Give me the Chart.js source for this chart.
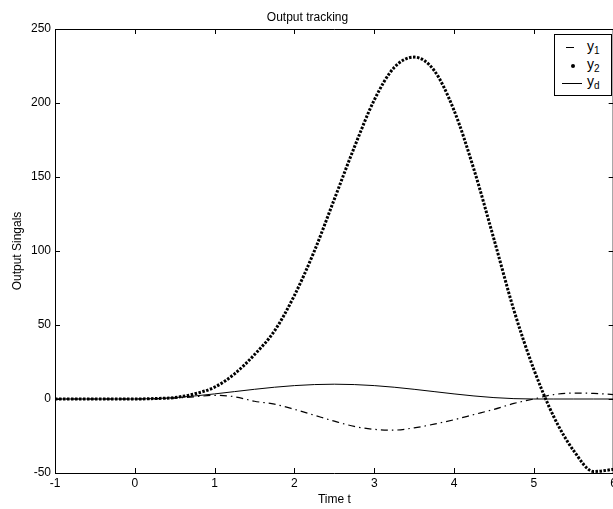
<!DOCTYPE html>
<html><head><meta charset="utf-8">
<script src="https://cdn.jsdelivr.net/npm/chart.js@4.4.1/dist/chart.umd.min.js"></script>
<style>
html,body{margin:0;padding:0;background:#fff;overflow:hidden;width:613px;height:509px;}
#wrap{position:relative;width:620px;height:509px;}
#legend{position:absolute;left:554px;top:34px;width:58px;height:62px;border:1px solid #000;box-sizing:border-box;background:#fff;font-family:"Liberation Sans",Arial,sans-serif;font-size:14px;color:#000;}
#legend .row{position:absolute;left:0;width:100%;height:18px;}
#legend .txt{position:absolute;left:32px;top:0;line-height:14px;white-space:nowrap;}
#legend sub{font-size:10px;position:relative;top:3px;vertical-align:baseline;line-height:0;}
#legend .s1{position:absolute;left:11px;top:8px;width:8px;height:1px;background:#000;}
#legend .s2{position:absolute;left:16px;top:7px;width:4px;height:4px;border-radius:2px;background:#000;}
#legend .s3{position:absolute;left:7px;top:9px;width:20px;height:1px;background:#000;}
</style></head>
<body>
<div id="wrap">
<canvas id="c" width="620" height="509"></canvas>
<div id="legend">
 <div class="row" style="top:4px"><div class="s1"></div><div class="txt">y<sub>1</sub></div></div>
 <div class="row" style="top:22px"><div class="s2"></div><div class="txt">y<sub>2</sub></div></div>
 <div class="row" style="top:39px"><div class="s3"></div><div class="txt">y<sub>d</sub></div></div>
</div>
</div>
<script>
const tValues = [-1,-0.75,-0.5,-0.25,0,0.25,0.5,0.75,1,1.25,1.5,1.75,2,2.25,2.5,2.75,3,3.25,3.5,3.75,4,4.25,4.5,4.75,5,5.25,5.5,5.75,6];
const y1Values = [0,0,0,0,0,0.1,0.6,1.5,2.5,1.5,-1.5,-3.5,-7,-11,-15,-18.5,-20.5,-21,-19.5,-17,-14,-10.5,-7,-3,0,3,4,3.8,3];
const y2Values = [0,0,0,0,0,0.3,1,3.5,8,17,30,46,70,100,135,170,202,224,231,222,195,155,108,60,20,-12,-35,-49,-47.5];
const ydValues = [0,0,0,0,0,0.25,0.95,2.05,3.45,5,6.55,7.95,9.05,9.75,10,9.75,9.05,7.95,6.55,5,3.45,2.05,0.95,0.25,0,0,0,0,0];
const xTicks = [-1,0,1,2,3,4,5,6];
const yTicks = [-50,0,50,100,150,200,250];

const FONT = "'Liberation Sans', Arial, sans-serif";
const pts = arr => tValues.map((t,i)=>({x:t,y:arr[i]}));

const frameTicks = {
  id:'frameTicks',
  afterDraw(chart){
    const {ctx, chartArea:a, scales:{x,y}} = chart;
    ctx.save();
    ctx.strokeStyle='#000'; ctx.lineWidth=1;
    ctx.beginPath();
    ctx.moveTo(a.left, a.top+0.5); ctx.lineTo(a.right, a.top+0.5);
    ctx.moveTo(a.right-0.5, a.top); ctx.lineTo(a.right-0.5, a.bottom);
    x.ticks.forEach(t=>{
      const px = Math.round(x.getPixelForValue(t.value))+0.5;
      ctx.moveTo(px, a.bottom); ctx.lineTo(px, a.bottom-5);
      ctx.moveTo(px, a.top); ctx.lineTo(px, a.top+5);
    });
    y.ticks.forEach(t=>{
      const py = Math.round(y.getPixelForValue(t.value))+0.5;
      ctx.moveTo(a.left, py); ctx.lineTo(a.left+5, py);
      ctx.moveTo(a.right, py); ctx.lineTo(a.right-5, py);
    });
    ctx.stroke();
    ctx.restore();
  }
};

new Chart(document.getElementById('c'), {
  type:'line',
  data:{
    datasets:[
      {label:'y1', data:pts(y1Values), borderColor:'#000', borderWidth:1.2, borderDash:[7,4,1.5,4], pointRadius:0, cubicInterpolationMode:'monotone', fill:false},
      {label:'y2', data:pts(y2Values), borderColor:'#000', borderWidth:3, borderDash:[2.5,1.5], pointRadius:0, cubicInterpolationMode:'monotone', fill:false},
      {label:'yd', data:pts(ydValues), borderColor:'#000', borderWidth:1, pointRadius:0, cubicInterpolationMode:'monotone', fill:false}
    ]
  },
  options:{
    responsive:false, animation:false,
    layout:{padding:{left:0,right:5,top:0,bottom:0}},
    plugins:{
      legend:{display:false}, tooltip:{enabled:false},
      title:{display:true, text:'Output tracking', color:'#000', font:{family:FONT, size:12, weight:'normal'}, padding:{top:10,bottom:4.6}}
    },
    scales:{
      x:{type:'linear', min:-1, max:6,
        afterBuildTicks(s){ s.ticks = xTicks.map(v=>({value:v})); },
        afterFit(s){ s.height = 36; },
        grid:{display:false, drawTicks:false}, border:{display:true,color:'#000',width:1},
        ticks:{color:'#000', font:{family:FONT,size:12}, padding:3, maxRotation:0, autoSkip:false},
        title:{display:true, text:'Time t', color:'#000', font:{family:FONT,size:12}, padding:{top:0,bottom:2}}
      },
      y:{type:'linear', min:-50, max:250,
        afterBuildTicks(s){ s.ticks = yTicks.map(v=>({value:v})); },
        afterFit(s){ s.width = 55; },
        grid:{display:false, drawTicks:false}, border:{display:true,color:'#000',width:1},
        ticks:{color:'#000', font:{family:FONT,size:12}, padding:4, autoSkip:false},
        title:{display:true, text:'Output Singals', color:'#000', font:{family:FONT,size:12}, padding:{top:10,bottom:0}}
      }
    }
  },
  plugins:[frameTicks]
});
</script>
</body></html>
